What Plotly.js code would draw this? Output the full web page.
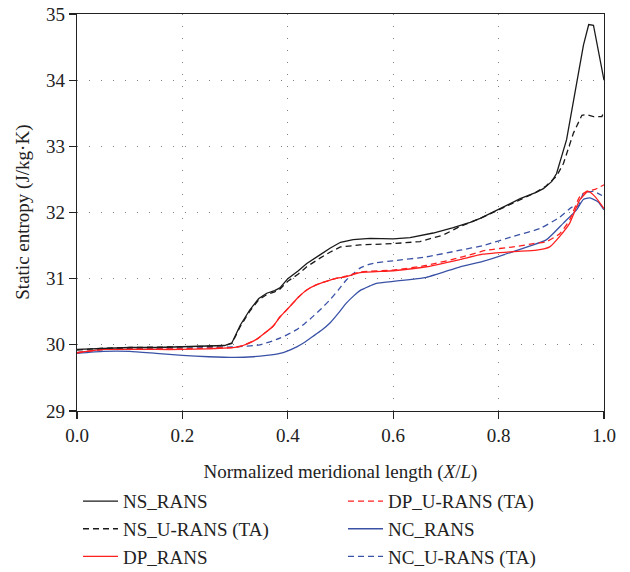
<!DOCTYPE html>
<html>
<head>
<meta charset="utf-8">
<script src="https://cdn.plot.ly/plotly-3.0.1.min.js"></script>
<style>html,body{margin:0;padding:0;background:#fff;}</style>
</head>
<body>
<div id="chart" style="width:630px;height:572px;"></div>
<script>
// ---- data ----
const xTicks = [0, 0.2, 0.4, 0.6, 0.8, 1.0];
const yTicks = [29, 30, 31, 32, 33, 34, 35];
const xTitle = 'Normalized meridional length (<i>X</i>/<i>L</i>)';
const yTitle = 'Static entropy (J/kg·K)';

const nsRansX = [0, 0.05, 0.1, 0.15, 0.2, 0.25, 0.28, 0.294, 0.31, 0.328, 0.345, 0.36, 0.375, 0.385, 0.40, 0.42, 0.436, 0.461, 0.48, 0.5, 0.524, 0.556, 0.6, 0.632, 0.676, 0.714, 0.746, 0.765, 0.803, 0.841, 0.87, 0.885, 0.901, 0.91, 0.929, 0.948, 0.961, 0.971, 0.98, 1.0];
const nsRansY = [29.93, 29.95, 29.96, 29.96, 29.97, 29.98, 29.99, 30.03, 30.3, 30.53, 30.7, 30.78, 30.82, 30.86, 31.0, 31.12, 31.23, 31.36, 31.46, 31.55, 31.59, 31.61, 31.6, 31.62, 31.69, 31.77, 31.85, 31.91, 32.06, 32.21, 32.3, 32.36, 32.47, 32.59, 33.1, 33.95, 34.53, 34.84, 34.83, 34.0];

const nsUransX = [0, 0.05, 0.1, 0.15, 0.2, 0.25, 0.28, 0.294, 0.31, 0.328, 0.345, 0.36, 0.375, 0.385, 0.40, 0.42, 0.436, 0.461, 0.48, 0.5, 0.537, 0.6, 0.651, 0.695, 0.727, 0.765, 0.803, 0.841, 0.87, 0.89, 0.91, 0.923, 0.942, 0.958, 0.967, 0.98, 0.996, 1.0];
const nsUransY = [29.92, 29.95, 29.96, 29.96, 29.97, 29.98, 29.99, 30.02, 30.28, 30.51, 30.68, 30.76, 30.8, 30.84, 30.96, 31.07, 31.18, 31.31, 31.4, 31.48, 31.51, 31.53, 31.56, 31.66, 31.79, 31.91, 32.05, 32.2, 32.3, 32.4, 32.55, 32.74, 33.2, 33.47, 33.48, 33.45, 33.45, 33.53];

const dpRansX = [0, 0.05, 0.1, 0.15, 0.2, 0.25, 0.3, 0.315, 0.34, 0.36, 0.372, 0.385, 0.404, 0.42, 0.436, 0.455, 0.473, 0.49, 0.511, 0.537, 0.6, 0.663, 0.727, 0.77, 0.828, 0.872, 0.897, 0.916, 0.935, 0.954, 0.97, 0.983, 1.0];
const dpRansY = [29.88, 29.93, 29.93, 29.93, 29.93, 29.94, 29.96, 29.99, 30.08, 30.2, 30.28, 30.42, 30.58, 30.72, 30.83, 30.91, 30.96, 31.0, 31.03, 31.09, 31.12, 31.18, 31.29, 31.37, 31.41, 31.43, 31.48, 31.64, 31.84, 32.19, 32.32, 32.24, 32.06];

const dpUransX = [0, 0.05, 0.1, 0.15, 0.2, 0.25, 0.3, 0.315, 0.34, 0.36, 0.372, 0.385, 0.404, 0.42, 0.436, 0.455, 0.473, 0.49, 0.511, 0.537, 0.6, 0.663, 0.727, 0.777, 0.828, 0.866, 0.891, 0.916, 0.935, 0.954, 0.967, 0.983, 1.0];
const dpUransY = [29.88, 29.93, 29.94, 29.94, 29.94, 29.95, 29.96, 29.99, 30.08, 30.2, 30.28, 30.42, 30.58, 30.72, 30.83, 30.91, 30.96, 31.0, 31.04, 31.1, 31.13, 31.2, 31.32, 31.43, 31.48, 31.53, 31.56, 31.68, 31.89, 32.24, 32.32, 32.35, 32.42];

const ncRansX = [0, 0.05, 0.1, 0.15, 0.2, 0.25, 0.3, 0.334, 0.36, 0.385, 0.40, 0.417, 0.432, 0.448, 0.464, 0.48, 0.496, 0.511, 0.525, 0.537, 0.556, 0.568, 0.6, 0.663, 0.727, 0.77, 0.828, 0.891, 0.923, 0.948, 0.961, 0.973, 0.989, 1.0];
const ncRansY = [29.87, 29.9, 29.9, 29.87, 29.84, 29.82, 29.81, 29.82, 29.84, 29.87, 29.91, 29.97, 30.04, 30.13, 30.22, 30.33, 30.48, 30.63, 30.74, 30.82, 30.89, 30.93, 30.96, 31.02, 31.18, 31.26, 31.41, 31.59, 31.84, 32.04, 32.2, 32.22, 32.16, 32.04];

const ncUransX = [0, 0.05, 0.1, 0.15, 0.2, 0.25, 0.3, 0.347, 0.385, 0.417, 0.432, 0.448, 0.464, 0.48, 0.496, 0.511, 0.525, 0.537, 0.556, 0.568, 0.6, 0.663, 0.727, 0.77, 0.828, 0.879, 0.916, 0.939, 0.951, 0.961, 0.98, 1.0];
const ncUransY = [29.88, 29.93, 29.95, 29.95, 29.95, 29.96, 29.97, 30.0, 30.1, 30.23, 30.32, 30.43, 30.55, 30.68, 30.83, 30.98, 31.08, 31.16, 31.22, 31.24, 31.27, 31.33, 31.43, 31.5, 31.64, 31.76, 31.93, 32.08, 32.09, 32.29, 32.32, 32.24];

const names = ['NS_RANS', 'NS_U-RANS (TA)', 'DP_RANS', 'DP_U-RANS (TA)', 'NC_RANS', 'NC_U-RANS (TA)'];

const BLACK = '#1a1a1a', RED = '#ff1f1f', BLUE = '#3a52a6';
const DASH = '6px,4px';
const FONT = {family: 'Liberation Serif', size: 19, color: '#222'};

function tr(x, y, name, color, dash, legendId, rank, shape) {
  return {
    x: x, y: y, name: name, type: 'scatter', mode: 'lines',
    line: {color: color, width: 1.3, dash: dash, shape: shape || 'spline', smoothing: 0.5},
    legend: legendId, legendrank: rank
  };
}

const data = [
  tr(ncRansX, ncRansY, names[4], BLUE, 'solid', 'legend2', 2),
  tr(ncUransX, ncUransY, names[5], BLUE, DASH, 'legend2', 3),
  tr(dpRansX, dpRansY, names[2], RED, 'solid', 'legend', 3),
  tr(dpUransX, dpUransY, names[3], RED, DASH, 'legend2', 1),
  tr(nsUransX, nsUransY, names[1], BLACK, DASH, 'legend', 2, 'linear'),
  tr(nsRansX, nsRansY, names[0], BLACK, 'solid', 'legend', 1, 'linear')
];

const axisCommon = {
  showline: true, linecolor: '#222', linewidth: 1.3, mirror: true,
  ticks: 'outside', ticklen: 7, tickwidth: 1.3, tickcolor: '#222',
  showgrid: true, gridcolor: '#808080', gridwidth: 1, griddash: '1px,11px',
  zeroline: false,
  tickfont: FONT
};

const legendCommon = {
  orientation: 'v', xref: 'container', yref: 'container', xanchor: 'left', yanchor: 'top',
  y: 0.157, traceorder: 'normal', tracegroupgap: 0, itemwidth: 35,
  font: FONT, bgcolor: 'rgba(0,0,0,0)'
};

const layout = {
  width: 630, height: 572,
  margin: {l: 77, r: 26, t: 14, b: 161, autoexpand: false},
  paper_bgcolor: '#fff', plot_bgcolor: '#fff',
  font: FONT,
  showlegend: true,
  xaxis: Object.assign({}, axisCommon, {
    range: [0, 1], tickvals: xTicks, tickformat: '.1f',
    title: {text: xTitle, font: FONT}
  }),
  yaxis: Object.assign({}, axisCommon, {
    range: [29, 35], tickvals: yTicks
  }),
  annotations: [{
    text: yTitle, xref: 'paper', yref: 'paper', x: -0.104, y: 0.5,
    xanchor: 'center', yanchor: 'middle', textangle: -90, showarrow: false, font: FONT
  }],
  legend: Object.assign({}, legendCommon, {x: 78 / 630}),
  legend2: Object.assign({}, legendCommon, {x: 343 / 630})
};

Plotly.newPlot('chart', data, layout, {displayModeBar: false, staticPlot: true});
</script>
</body>
</html>
